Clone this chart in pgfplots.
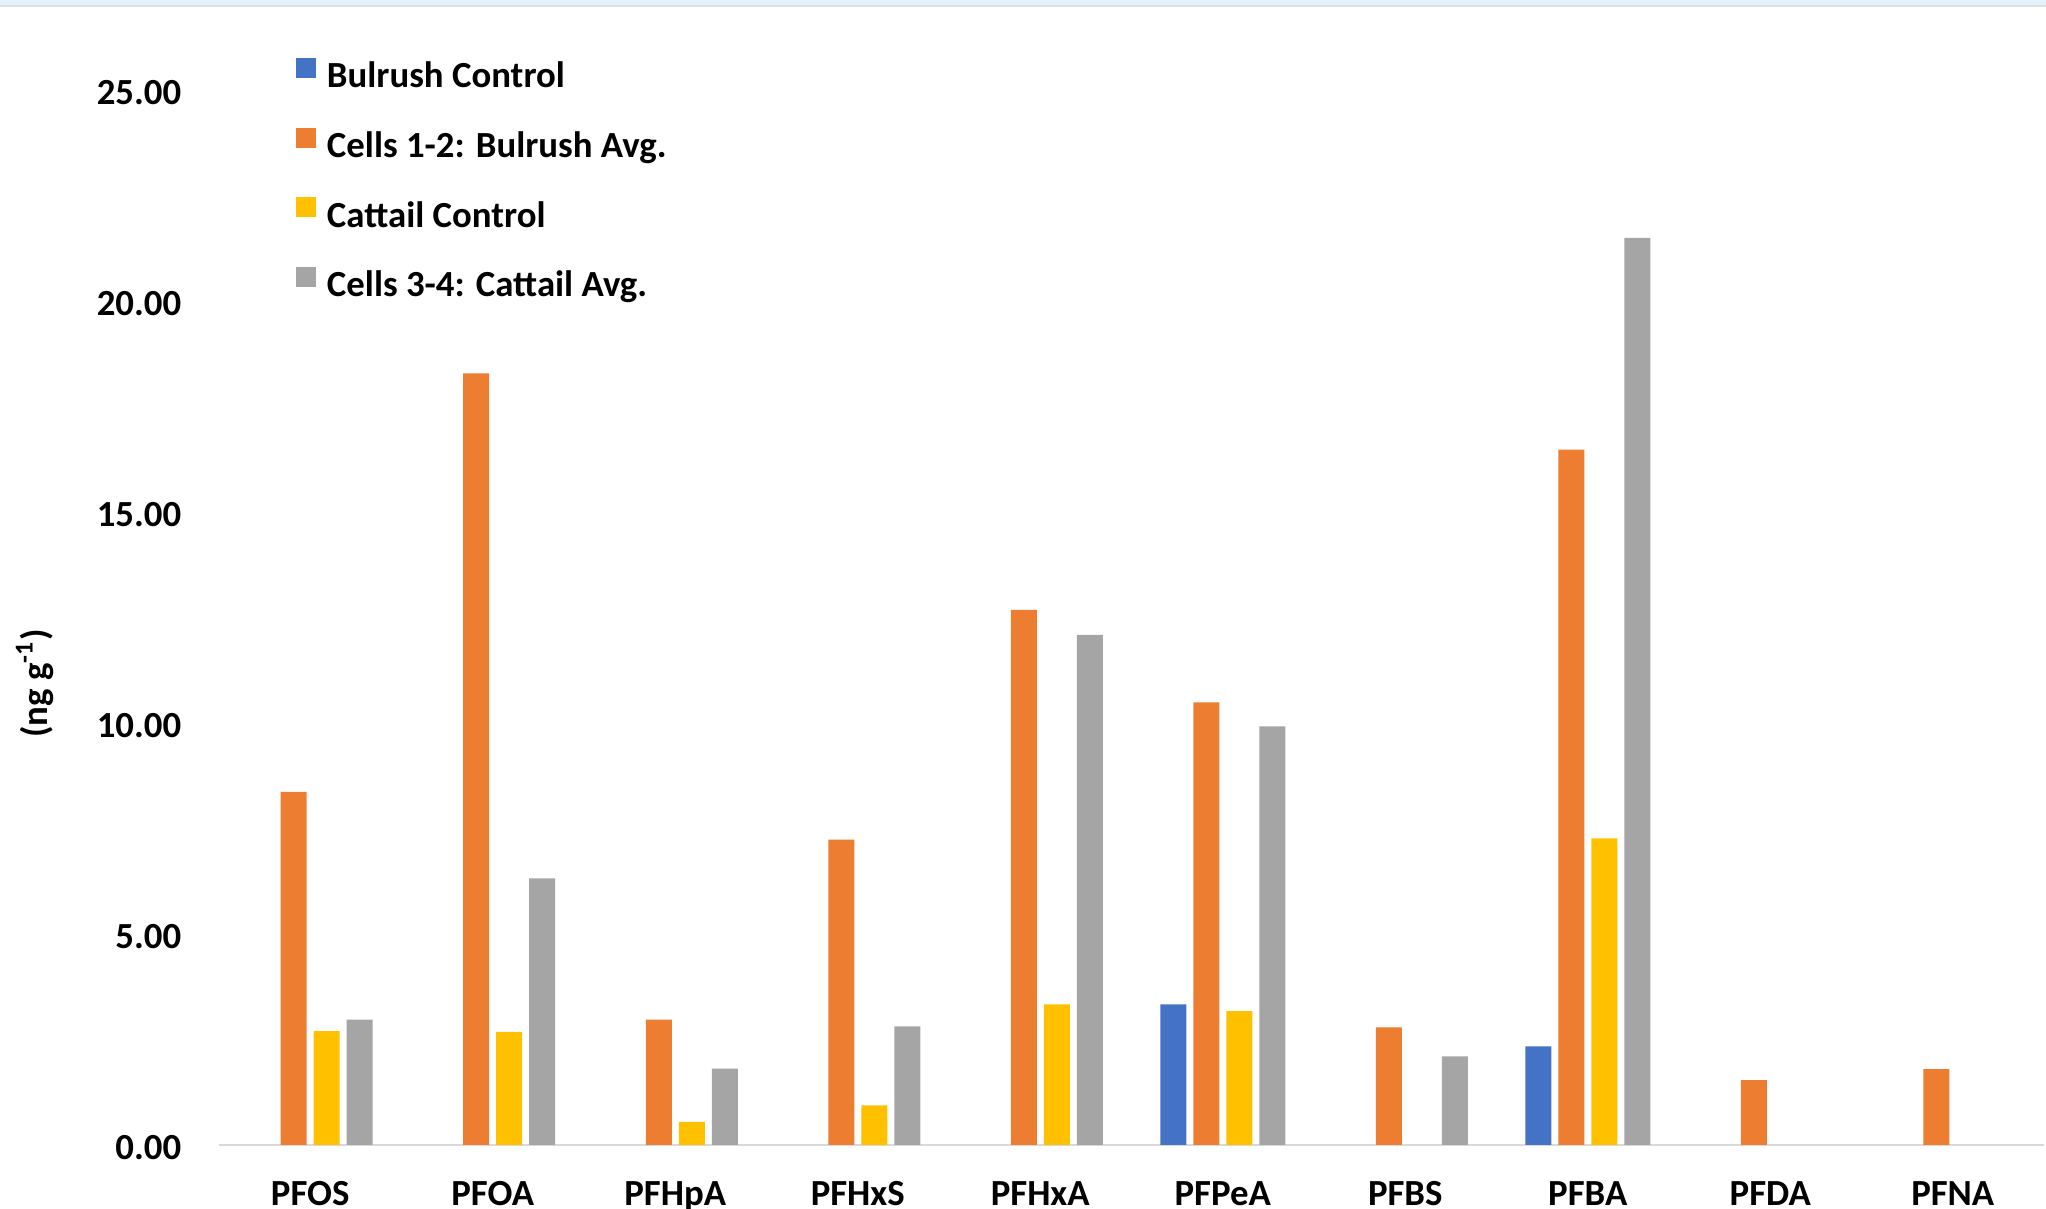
\documentclass[border=0pt]{standalone}
\usepackage{pgfplots}
\pgfplotsset{compat=1.18}
\usepackage{fontspec}
\setmainfont{Carlito}

\definecolor{barblue}{HTML}{4472C4}
\definecolor{barorange}{HTML}{ED7D31}
\definecolor{baryellow}{HTML}{FFC000}
\definecolor{bargray}{HTML}{A5A5A5}
\definecolor{axisgray}{HTML}{D9D9D9}
\definecolor{framebar}{HTML}{E3F1FA}

\newcommand{\chartfont}{\bfseries\fontsize{9.2pt}{11pt}\selectfont}

\pgfplotsset{
  sq legend/.style={
    legend image code/.code={%
      \fill[##1] (0pt,0.25pt) rectangle (5pt,5.25pt);
      \path (7.75pt,0pt);
    }
  }
}

\begin{document}
\begin{tikzpicture}
\path[use as bounding box] (-54.75pt,-16pt) rectangle (456.75pt,286.25pt);
% window strip along the top edge
\fill[framebar] (-54.75pt,285pt) rectangle (456.75pt,286.25pt);
\fill[gray!25] (-54.75pt,284.5pt) rectangle (456.75pt,285pt);

\begin{axis}[
  at={(0pt,0pt)}, anchor=south west,
  scale only axis, width=456.25pt, height=263.7pt,
  xmin=-0.5, xmax=9.5, ymin=0, ymax=25,
  ybar=1.75pt, bar width=6.5pt,
  axis x line*=bottom, axis y line*=left,
  y axis line style={draw=none},
  x axis line style={draw=axisgray, line width=0.6pt},
  major tick length=0pt,
  xtick={0,...,9},
  xticklabels={PFOS,PFOA,PFHpA,PFHxS,PFHxA,PFPeA,PFBS,PFBA,PFDA,PFNA},
  ytick={0,5,...,25},
  tick label style={font=\chartfont},
  xticklabel style={anchor=base, inner sep=0pt, yshift=-15.15pt},
  yticklabel style={anchor=east, inner sep=0pt, xshift=-9.25pt, yshift=-0.7pt,
    /pgf/number format/fixed,
    /pgf/number format/fixed zerofill,
    /pgf/number format/precision=2,
    /pgf/number format/assume math mode=true},
  ylabel={(ng g\textsuperscript{-1})},
  ylabel style={at={(axis description cs:-0.10082,0.4378)}, anchor=center, font=\chartfont},
  legend style={at={(axis description cs:0.04219,1.0306)}, anchor=north west,
    draw=none, fill=none, inner sep=0pt, outer sep=0pt, row sep=7.9pt,
    font=\chartfont,
    nodes={inner sep=0pt, text height=6.5pt, text depth=2pt}},
  legend cell align=left,
]
\addplot[fill=barblue, draw=none, sq legend] coordinates {
  (5,3.33) (7,2.34)
};
\addplot[fill=barorange, draw=none, sq legend] coordinates {
  (0,8.37) (1,18.29) (2,2.97) (3,7.24) (4,12.68)
  (5,10.49) (6,2.79) (7,16.48) (8,1.54) (9,1.80)
};
\addplot[fill=baryellow, draw=none, sq legend] coordinates {
  (0,2.70) (1,2.68) (2,0.55) (3,0.94) (4,3.33)
  (5,3.17) (7,7.27)
};
\addplot[fill=bargray, draw=none, sq legend] coordinates {
  (0,2.97) (1,6.32) (2,1.81) (3,2.81) (4,12.09)
  (5,9.92) (6,2.10) (7,21.50)
};
\legend{Bulrush Control, Cells 1-2: Bulrush Avg., Cattail Control, Cells 3-4: Cattail Avg.}
\end{axis}
\end{tikzpicture}
\end{document}
